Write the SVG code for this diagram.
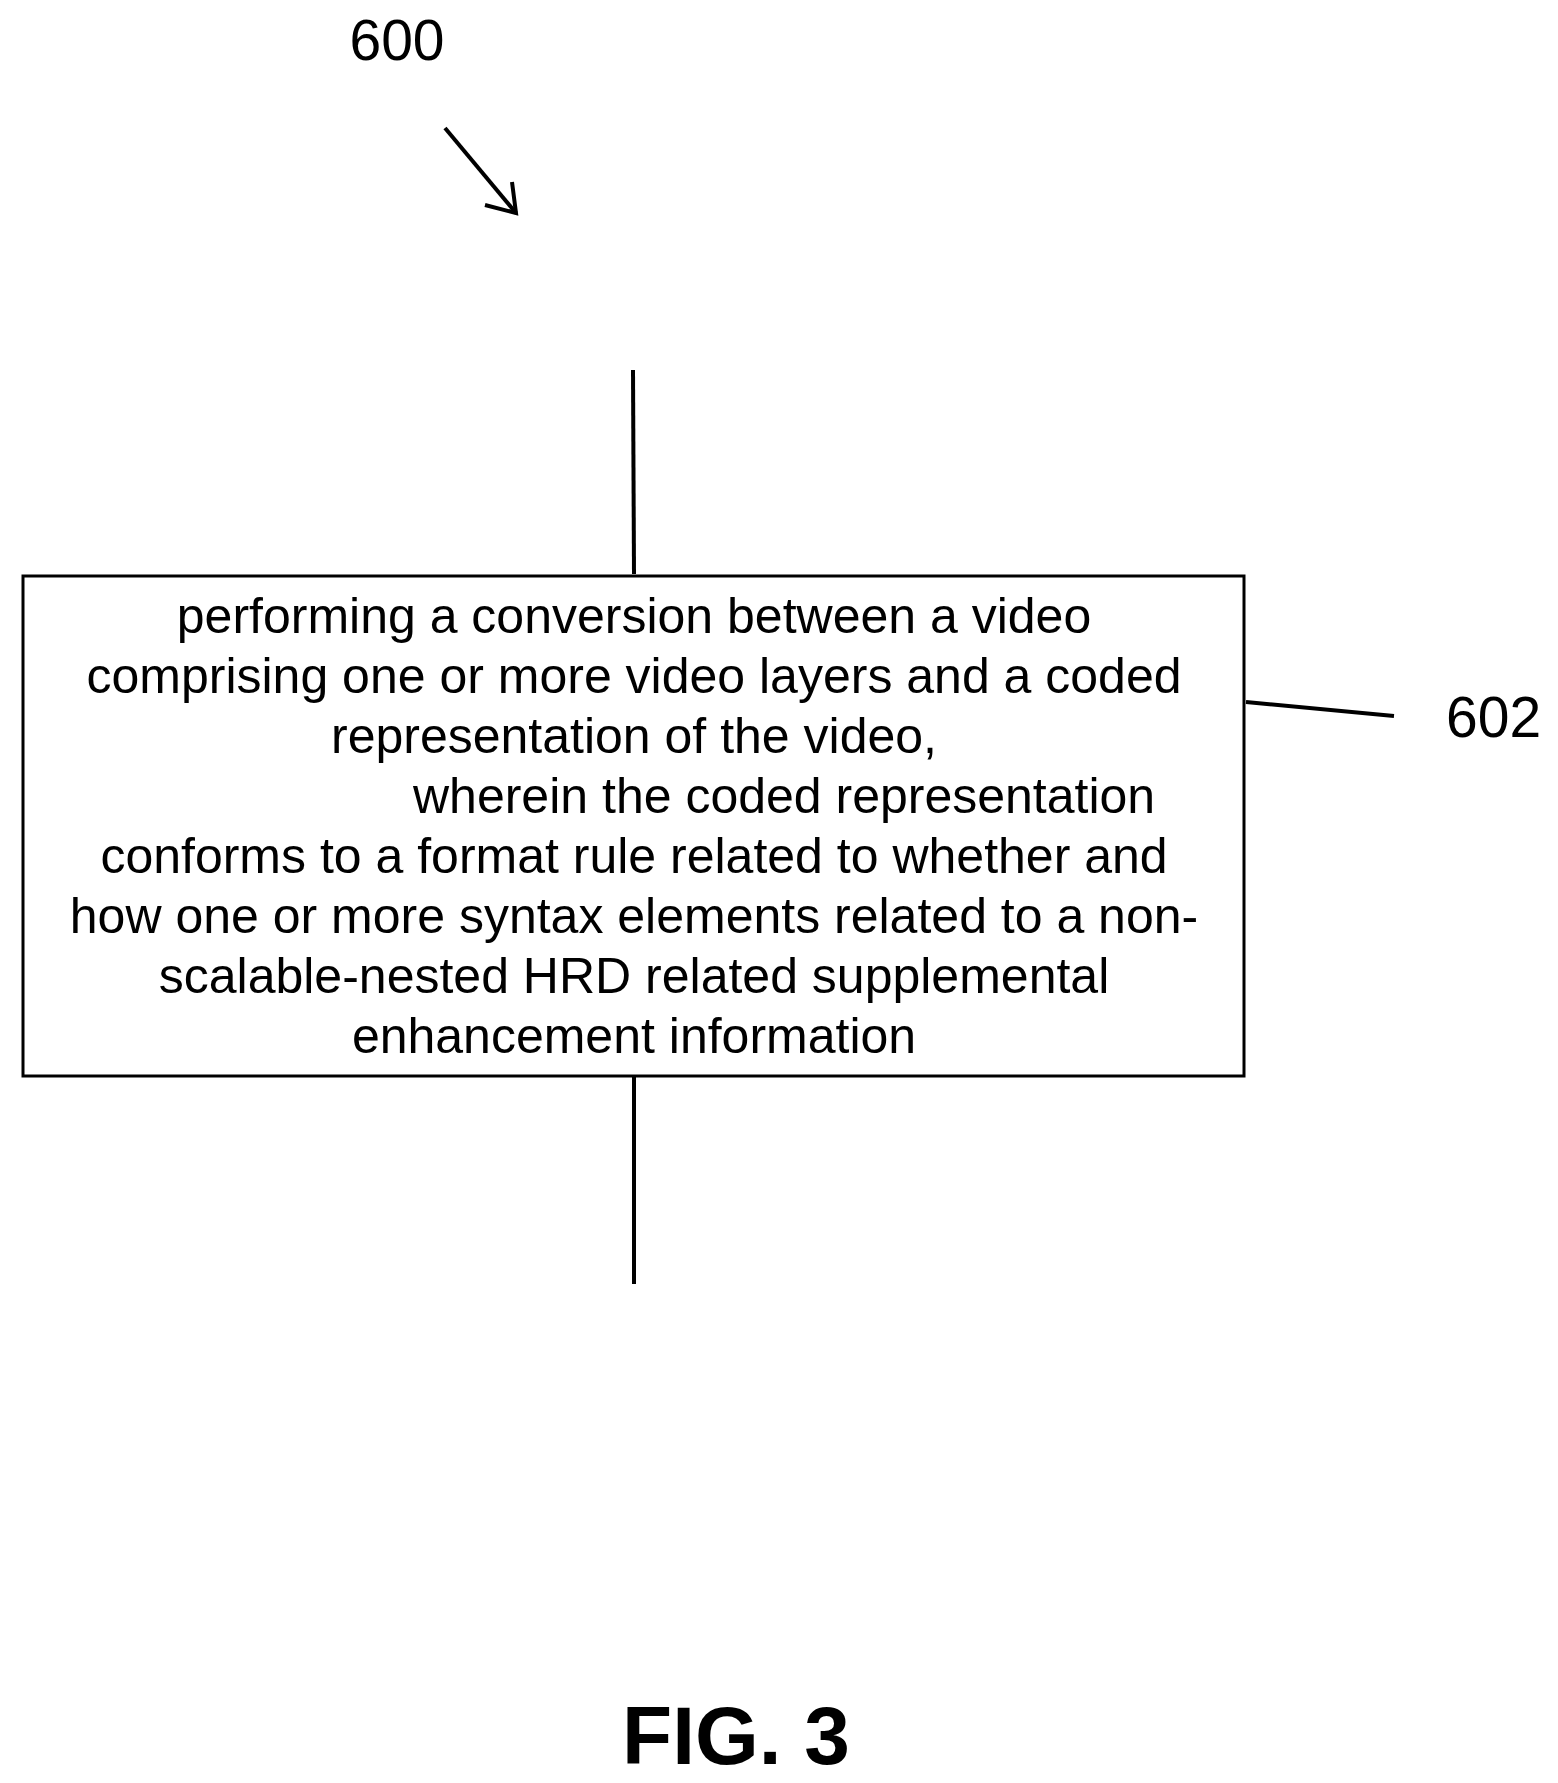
<svg xmlns="http://www.w3.org/2000/svg" width="1558" height="1783" viewBox="0 0 1558 1783">
<style>
text{font-family:"Liberation Sans",Arial,sans-serif;fill:#000}
.t{font-size:50px;text-anchor:middle}
.l{stroke:#000;stroke-width:4;fill:none}
</style>
<rect width="1558" height="1783" fill="#fff"/>
<g id="label600"><text x="397" y="60" font-size="57" text-anchor="middle">600</text></g>
<g id="connectors">
<line class="l" x1="445" y1="128" x2="516" y2="213"/>
<path class="l" d="M485,205 L516,213 L512,182"/>
<line class="l" x1="633" y1="370" x2="634" y2="574"/>
<line class="l" x1="634" y1="1077" x2="634" y2="1284"/>
<line class="l" x1="1246" y1="702" x2="1394" y2="716"/>
</g>
<g id="node602">
<rect x="23" y="576" width="1221" height="500" fill="#fff" stroke="#000" stroke-width="3"/>
<text class="t" x="634" y="633">performing a conversion between a video</text>
<text class="t" x="634" y="693">comprising one or more video layers and a coded</text>
<text class="t" x="634" y="753">representation of the video,</text>
<text class="t" x="413" y="813" style="text-anchor:start">wherein the coded representation</text>
<text class="t" x="634" y="873">conforms to a format rule related to whether and</text>
<text class="t" x="634" y="933">how one or more syntax elements related to a non-</text>
<text class="t" x="634" y="993">scalable-nested HRD related supplemental</text>
<text class="t" x="634" y="1053">enhancement information</text>
</g>
<g id="label602"><text x="1446" y="737" font-size="57">602</text></g>
<g id="caption"><text x="736" y="1764" font-size="82" font-weight="bold" text-anchor="middle">FIG. 3</text></g>
</svg>
